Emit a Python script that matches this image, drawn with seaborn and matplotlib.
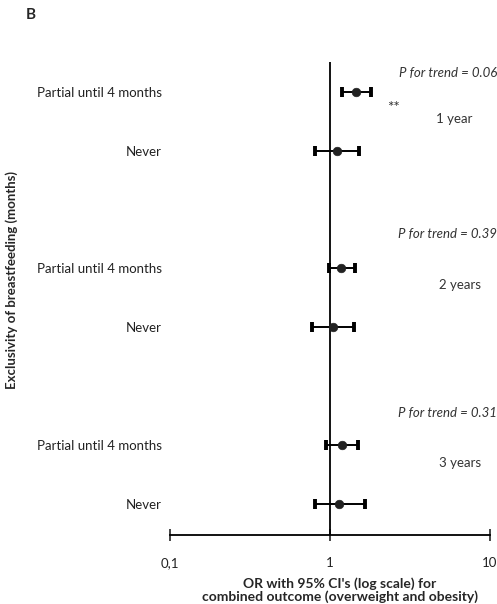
import matplotlib
matplotlib.use('Agg')
import matplotlib.pyplot as plt
import seaborn as sns
import numpy as np
import pandas as pd

# Data
groups = ['1 year', '2 years', '3 years']
categories = ['Partial until 4 months', 'Never']
odds_ratio = [1.45, 1.11, 1.17, 1.05, 1.19, 1.13]
ci_low = [1.19, 0.81, 0.98, 0.77, 0.95, 0.81]
ci_high = [1.80, 1.52, 1.44, 1.41, 1.49, 1.66]
p_trend = ['0.06', '0.39', '0.31']
x_ticks = [0.1, 1, 10]
x_tick_labels = ['0,1', '1', '10']

# row positions (two rows per group, blank row between groups)
rows = [0, 1, 3, 4, 6, 7]

df = pd.DataFrame({
    'row': rows,
    'label': categories * len(groups),
    'OR': odds_ratio,
    'lo': ci_low,
    'hi': ci_high,
})

sns.set_style('white')
plt.rcParams['font.family'] = ['Lato', 'DejaVu Sans']

fig = plt.figure(figsize=(4.97, 6.04), dpi=100)
ax = fig.add_axes([0.342, 0.114, 0.644, 0.783])

# reference line at OR = 1
ax.axvline(1, color='black', lw=1.3, zorder=1)

# confidence intervals
ax.errorbar(df['OR'], df['row'],
            xerr=[df['OR'] - df['lo'], df['hi'] - df['OR']],
            fmt='none', ecolor='black', elinewidth=1.4,
            capsize=3.5, capthick=2.8, zorder=2)

# point estimates
sns.scatterplot(data=df, x='OR', y='row', ax=ax, color='#222222',
                s=38, marker='o', edgecolor='#222222', zorder=3, legend=False)

ax.set_xscale('log')
ax.set_xlim(0.1, 10)
ax.set_ylim(7.53, -0.5)
ax.set_xticks(x_ticks)
ax.set_xticklabels(x_tick_labels, fontsize=9.5, color='#222222')
ax.xaxis.set_minor_locator(matplotlib.ticker.NullLocator())
ax.tick_params(axis='x', direction='inout', length=8, width=1.2, pad=12,
               bottom=True)
ax.set_yticks(rows)
ax.set_yticklabels(df['label'], fontsize=9.5, color='#222222')
ax.tick_params(axis='y', length=0, pad=6)

for s in ['top', 'right', 'left']:
    ax.spines[s].set_visible(False)
ax.spines['bottom'].set_linewidth(1.3)
ax.spines['bottom'].set_color('black')

ax.set_xlabel('')
ax.set_ylabel('')

# group annotations
p_rows = [-0.32, 2.41, 5.46]
year_rows = [0.46, 3.29, 6.3]
year_x = [4.6, 4.8, 4.8]
for i, g in enumerate(groups):
    ax.text(11.1, p_rows[i], f'P for trend = {p_trend[i]}', ha='right',
            va='center', fontsize=9.5, style='italic', color='#333333',
            clip_on=False)
    ax.text(year_x[i], year_rows[i], g, ha='left', va='center',
            fontsize=9.5, color='#333333', clip_on=False)
ax.text(2.48, 0.28, '**', ha='center', va='center', fontsize=11,
        color='#333333')

fig.text(12 / 497, 1 - 280 / 604, 'Exclusivity of breastfeeding (months)',
         rotation=90, ha='center', va='center', fontsize=9.5,
         fontweight='bold')
fig.text(340 / 497, 1 - 590 / 604,
         "OR with 95% CI's (log scale) for\ncombined outcome (overweight and obesity)",
         ha='center', va='center', fontsize=10, fontweight='bold',
         linespacing=1.0)
fig.text(26 / 497, 1 - 15 / 604, 'B', ha='left', va='center',
         fontsize=11, fontweight='bold')

fig.savefig('out.png', dpi=100)
